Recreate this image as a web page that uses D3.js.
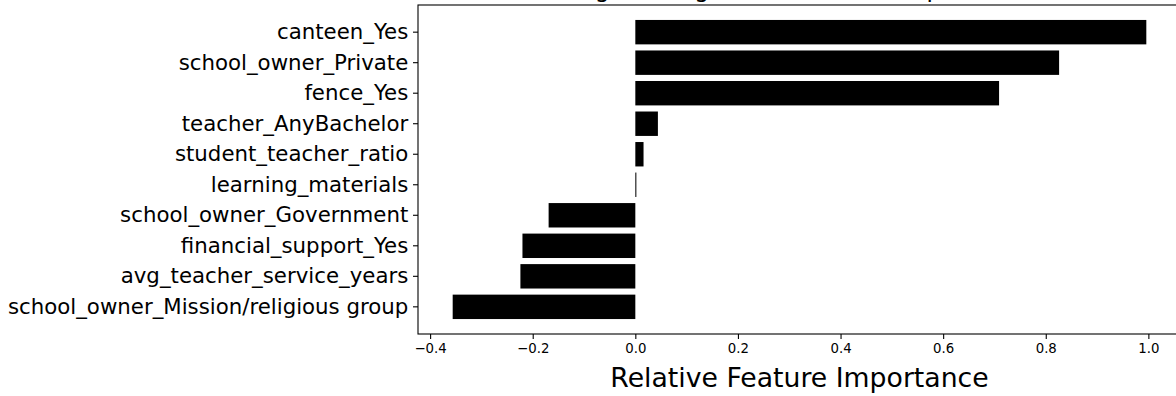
<!DOCTYPE html>
<html>
<head>
<meta charset="utf-8">
<script src="https://cdn.jsdelivr.net/npm/d3@7"></script>
<style>
  body { margin: 0; background: #fff; overflow: hidden; }
  svg { display: block; font-family: "DejaVu Sans", sans-serif; }
</style>
</head>
<body>
<svg id="importance"></svg>
<script>
// features listed top to bottom, same order as the bars
const features = [
  "canteen_Yes",
  "school_owner_Private",
  "fence_Yes",
  "teacher_AnyBachelor",
  "student_teacher_ratio",
  "learning_materials",
  "school_owner_Government",
  "financial_support_Yes",
  "avg_teacher_service_years",
  "school_owner_Mission/religious group",
];
const importances = [0.996, 0.826, 0.709, 0.044, 0.016, 0.002, -0.169, -0.22, -0.224, -0.356];
const xTicks = [-0.4, -0.2, 0.0, 0.2, 0.4, 0.6, 0.8, 1.0];
const chartTitle = "Logistic Regression Feature Importance"; // mostly cut off at the top
const xLabel = "Relative Feature Importance";

document.addEventListener("DOMContentLoaded", () => {
  drawBarChart("importance");
});

function drawBarChart(id) {
  const width = 1176,
    height = 396;
  const plot = { left: 418, top: 5, right: 1181, bottom: 334 };

  // matplotlib style 5% margins around the data
  const lo = d3.min(importances),
    hi = d3.max(importances),
    pad = (hi - lo) * 0.05;

  const x = d3
    .scaleLinear()
    .domain([lo - pad, hi + pad])
    .range([plot.left, plot.right]);

  const y = d3
    .scaleBand()
    .domain(features)
    .range([plot.top, plot.bottom])
    .paddingInner(0.2)
    .paddingOuter(0.49);

  const svg = d3.select(`svg#${id}`).attr("width", width).attr("height", height);

  svg
    .selectAll(".bar")
    .data(importances)
    .enter()
    .append("rect")
    .attr("class", "bar")
    .attr("x", (d) => x(Math.min(0, d)))
    .attr("y", (d, i) => y(features[i]))
    .attr("width", (d) => Math.max(1, Math.abs(x(d) - x(0))))
    .attr("height", y.bandwidth())
    .style("fill", "#000");

  // frame
  svg
    .append("rect")
    .attr("x", plot.left)
    .attr("y", plot.top)
    .attr("width", plot.right - plot.left)
    .attr("height", plot.bottom - plot.top)
    .style("fill", "none")
    .style("stroke", "#000")
    .style("stroke-width", 1.1);

  const xAxis = svg
    .append("g")
    .attr("transform", `translate(0,${plot.bottom})`)
    .call(
      d3
        .axisBottom(x)
        .tickValues(xTicks)
        .tickSize(5)
        .tickPadding(4.5)
        .tickFormat(d3.format(".1f"))
    );
  xAxis.select(".domain").remove();
  xAxis.selectAll("line").style("stroke-width", 1.1);
  xAxis
    .selectAll("text")
    .style("font-size", "13.3px")
    .style("font-family", "DejaVu Sans")
    .style("fill", "#000");

  const yAxis = svg
    .append("g")
    .attr("transform", `translate(${plot.left},0)`)
    .call(d3.axisLeft(y).tickSize(5).tickPadding(4.7));
  yAxis.select(".domain").remove();
  yAxis.selectAll("line").style("stroke-width", 1.1);
  yAxis
    .selectAll("text")
    .style("font-size", "21.3px")
    .style("font-family", "DejaVu Sans")
    .style("fill", "#000");

  svg
    .append("text")
    .attr("x", (plot.left + plot.right) / 2)
    .attr("y", 387)
    .attr("text-anchor", "middle")
    .style("font-size", "26.7px")
    .style("fill", "#000")
    .text(xLabel);

  svg
    .append("text")
    .attr("x", (plot.left + plot.right) / 2)
    .attr("y", -3)
    .attr("text-anchor", "middle")
    .style("font-size", "23.5px")
    .style("fill", "#000")
    .text(chartTitle);
}
</script>
</body>
</html>
